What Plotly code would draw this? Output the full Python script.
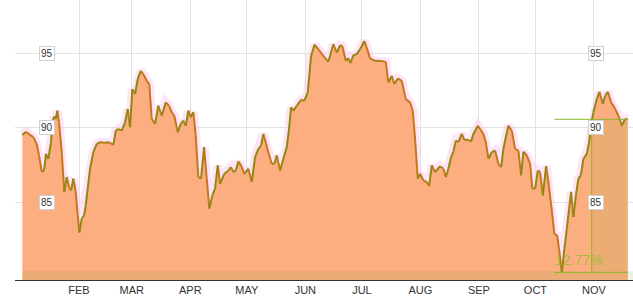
import pandas as pd
import plotly.graph_objects as go

# ---- data (day offsets from 2014-01-01, values) ----
day_offsets = [0.95, 2.92, 5.04, 6.79, 8.59, 9.81, 11.24, 12.46, 13.52, 14.74, 16.17, 16.86, 17.92, 18.66, 19.51,
               20.41, 21.85, 23.22, 24.5, 25.72, 26.78, 28.0, 29.27, 30.33, 31.18, 32.45, 33.67, 34.57, 36.85, 38.6,
               40.4, 42.15, 44.8, 46.92, 49.2, 50.48, 51.86, 53.66, 55.41, 56.84, 58.06, 59.28, 60.71, 62.14, 63.73,
               65.11, 66.91, 68.29, 69.56, 71.32, 73.06, 74.87, 76.99, 78.74, 80.17, 81.55, 83.35, 84.94, 86.32, 87.59,
               88.97, 90.24, 91.62, 92.9, 94.27, 95.71, 97.3, 98.73, 100.11, 101.7, 103.13, 104.56, 105.78, 108.06,
               110.18, 111.61, 112.83, 114.1, 115.48, 116.91, 118.66, 120.78, 122.59, 124.34, 126.09, 127.52, 128.74,
               130.0, 131.39, 133.19, 134.57, 135.84, 137.59, 139.34, 141.15, 142.36, 143.43, 144.65, 146.45, 148.73,
               150.48, 152.28, 154.03, 155.89, 157.9, 160.55, 163.2, 165.85, 167.66, 169.41, 170.6, 172.43, 173.8,
               174.87, 176.46, 178.26, 180.01, 182.29, 184.1, 185.31, 187.96, 190.62, 193.64, 195.02, 196.82, 198.2,
               200.0, 202.12, 204.24, 206.52, 207.95, 209.17, 210.6, 211.83, 213.57, 215.38, 216.6, 218.03, 219.78,
               222.43, 224.18, 225.45, 226.83, 228.26, 229.48, 230.75, 232.13, 233.93, 235.31, 237.43, 238.86, 240.08,
               242.42, 243.64, 245.39, 246.66, 248.04, 249.84, 251.59, 253.34, 254.77, 255.99, 257.26, 258.64, 260.45,
               262.2, 263.94, 265.38, 266.6, 268.4, 270.15, 271.37, 272.8, 274.23, 275.45, 276.88, 278.63, 279.85,
               281.65, 283.03, 284.46, 285.68, 286.96, 288.34, 289.61, 290.83, 291.89, 293.11, 294.54, 295.76, 297.03,
               298.41, 300.21, 301.43, 302.49, 303.71, 305.51, 306.89, 308.7, 309.91, 311.35, 313.1, 314.85, 316.97,
               318.77, 320.52, 321.95]
values = [89.53, 89.75, 89.53, 89.38, 88.93, 88.15, 87.07, 87.14, 88.26, 87.93, 89.04, 90.38, 90.78, 90.6, 91.16,
          90.38, 88.37, 85.7, 86.7, 86.03, 85.8, 86.59, 85.7, 84.13, 82.97, 83.9, 84.13, 84.8, 87.26, 88.37,
          88.93, 89.04, 89.0, 89.04, 88.86, 89.82, 89.93, 89.82, 90.38, 91.27, 90.05, 92.61, 92.28, 93.28, 93.84,
          93.61, 93.17, 92.94, 90.6, 90.27, 91.49, 90.82, 91.72, 91.49, 91.05, 90.82, 89.71, 90.27, 90.49, 90.15,
          91.16, 90.72, 91.05, 89.48, 86.7, 86.59, 88.71, 86.59, 84.58, 85.47, 85.92, 87.48, 86.25, 86.92,
          87.14, 87.37, 87.03, 87.14, 87.74, 87.48, 86.92, 87.26, 86.37, 88.04, 88.59, 88.82, 89.6,
          89.04, 88.37, 87.59, 87.59, 88.15, 87.14, 87.92, 88.71, 89.93, 91.39, 91.16, 91.49, 91.89,
          91.83, 92.39, 94.84, 95.6, 95.29, 94.84, 94.45, 95.62, 95.06, 95.56, 95.51, 94.51, 94.69,
          94.36, 94.89, 94.96, 95.29, 95.84, 95.18, 94.67, 94.51, 94.51, 94.44, 93.06, 93.5, 92.95,
          93.33, 93.17, 91.94, 91.72, 91.16, 89.26, 86.59, 86.92, 86.47, 86.37, 86.1, 87.48, 87.03,
          87.43, 87.26, 86.7, 87.26, 88.04, 88.41, 89.15, 89.04, 89.6, 89.2, 89.2, 89.08, 89.6,
          90.15, 89.93, 89.6, 89.04, 87.93, 88.37, 88.48, 87.59, 87.37, 88.59, 89.38, 90.15, 89.82,
          88.59, 88.48, 86.81, 88.41, 88.15, 87.59, 85.92, 85.92, 87.14, 87.03, 85.47, 87.43, 86.37,
          84.47, 82.84, 82.8, 81.68, 80.28, 81.9, 83.24, 84.58, 85.7, 84.02, 85.58, 86.59, 86.81,
          87.93, 88.26, 89.04, 90.27, 91.05, 91.94, 92.43, 91.61, 92.16, 92.43, 91.72, 91.38, 90.82,
          90.15, 90.6, 90.58]

month_labels = ["FEB", "MAR", "APR", "MAY", "JUN", "JUL", "AUG", "SEP", "OCT", "NOV"]
month_dates = ["2014-02-01", "2014-03-01", "2014-04-01", "2014-05-01", "2014-06-01",
               "2014-07-01", "2014-08-01", "2014-09-01", "2014-10-01", "2014-11-01"]
y_ticks = [85, 90, 95]

low_value = 80.28
last_value = 90.58
change_label = "12.77%"
range_start_day = 283.0
range_mid_day = 302.8
range_end_day = 322.0

base = pd.Timestamp("2014-01-01")
dates = [base + pd.Timedelta(days=d) for d in day_offsets]

fig = go.Figure()

# soft pink glow
fig.add_trace(go.Scatter(x=dates, y=values, mode="lines",
                         line=dict(color="rgba(255,205,240,0.55)", width=9),
                         hoverinfo="skip", showlegend=False))
# filled area
fig.add_trace(go.Scatter(x=dates, y=values, mode="lines", fill="tozeroy",
                         fillcolor="#FCAE80", line=dict(width=0, color="#FCAE80"),
                         hoverinfo="skip", showlegend=False))

# line: up segments olive, down segments orange-brown
ux, uy, dx, dy = [], [], [], []
for i in range(len(values) - 1):
    if values[i + 1] >= values[i]:
        ux += [dates[i], dates[i + 1], None]
        uy += [values[i], values[i + 1], None]
    else:
        dx += [dates[i], dates[i + 1], None]
        dy += [values[i], values[i + 1], None]
fig.add_trace(go.Scatter(x=dx, y=dy, mode="lines", line=dict(color="#C9761A", width=2),
                         hoverinfo="skip", showlegend=False))
fig.add_trace(go.Scatter(x=ux, y=uy, mode="lines", line=dict(color="#8C8A14", width=2),
                         hoverinfo="skip", showlegend=False))

d0 = base + pd.Timedelta(days=range_start_day)
d1 = base + pd.Timedelta(days=range_mid_day)
d2 = base + pd.Timedelta(days=range_end_day)
x_lo = base + pd.Timedelta(days=-2.93)
x_hi = base + pd.Timedelta(days=324.7)
y_lo, y_hi = 79.78, 98.6

shapes = [
    dict(type="rect", xref="x", yref="y", x0=base + pd.Timedelta(days=0.95), x1=x_hi, y0=y_lo, y1=low_value + 0.1,
         fillcolor="rgba(150,170,60,0.16)", line=dict(width=0), layer="above"),
    dict(type="rect", xref="x", yref="y", x0=d1, x1=d2, y0=low_value, y1=last_value,
         fillcolor="rgba(140,170,40,0.14)", line=dict(width=0), layer="above"),
    dict(type="line", xref="x", yref="y", x0=d0, x1=d2, y0=last_value, y1=last_value,
         line=dict(color="#8DB72E", width=1), layer="above"),
    dict(type="line", xref="x", yref="y", x0=d0, x1=d2, y0=low_value, y1=low_value,
         line=dict(color="#8DB72E", width=1), layer="above"),
    dict(type="line", xref="x", yref="y", x0=d1, x1=d1, y0=low_value, y1=last_value,
         line=dict(color="#9AAE2A", width=1), layer="above"),
]

annotations = []
for v in y_ticks:
    for xp in (39, 604):
        annotations.append(dict(xref="paper", yref="y", x=(xp - 15) / 618, y=v, text=str(v),
                                showarrow=False, font=dict(family="Arial, Liberation Sans", size=10, color="#333"),
                                bgcolor="white", bordercolor="#d0d0d0", borderwidth=1, borderpad=1))
annotations.append(dict(xref="x", yref="y", x=base + pd.Timedelta(days=295.6), y=81.1, text=change_label,
                        showarrow=False, font=dict(family="Arial, Liberation Sans", size=14,
                                                   color="rgba(140,190,40,0.8)")))

fig.update_layout(
    width=633, height=297,
    margin=dict(l=15, r=0, t=0, b=17),
    paper_bgcolor="white", plot_bgcolor="white",
    shapes=shapes, annotations=annotations,
    xaxis=dict(type="date", range=[x_lo, x_hi], tickvals=month_dates, ticktext=month_labels,
               showgrid=True, gridcolor="#e2e2e2", gridwidth=1, ticks="",
               showline=True, linecolor="#333", linewidth=1,
               tickfont=dict(family="Arial, Liberation Sans", size=11, color="#333"), fixedrange=True),
    yaxis=dict(range=[y_lo, y_hi], tickvals=y_ticks, showticklabels=False,
               showgrid=True, gridcolor="#e2e2e2", gridwidth=1, zeroline=False, fixedrange=True),
    showlegend=False,
)

fig.write_html("out.html")
